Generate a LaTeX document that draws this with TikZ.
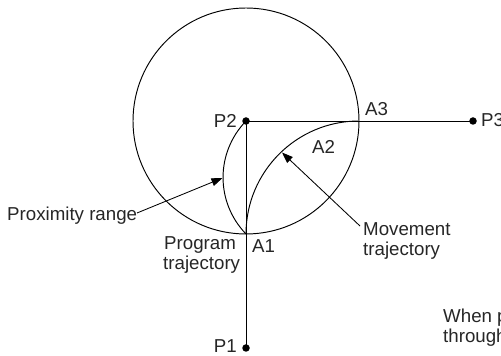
\documentclass[tikz,border=0pt]{standalone}
\usepackage{fontspec}
\setmainfont{Liberation Sans}
\usetikzlibrary{arrows.meta}
\begin{document}
\begin{tikzpicture}[x=1pt,y=1pt,
  line/.style={line width=0.95pt,black},
  lead/.style={line width=0.85pt,black,-{Triangle[length=11pt,width=8pt]}},
  lbl/.style={inner sep=0pt,font=\fontsize{18.7}{21}\selectfont,text=black!85},
  dot/.style={circle,fill=black,inner sep=0pt,minimum size=7.5pt}]
\clip (0,0) rectangle (501,356);
\useasboundingbox (0,0) rectangle (501,356);
% points
\coordinate (P2) at (246,235);
\coordinate (A1) at (246,122);
\coordinate (A3) at (359,235);
\coordinate (L1) at (137,143);
\coordinate (T1) at (222.5,178);
\coordinate (L2) at (360,130);
\coordinate (T2) at (282,203.5);
\node[dot] (dP2) at (P2) {};
\node[dot] (dP3) at (473,235) {};
\node[dot] (dP1) at (246,8) {};
% lines
\draw[line] (P2) circle[radius=113];
\draw[line] (P2) -- (dP3.center);
\draw[line] (P2) -- (dP1.center);
\draw[line] (A1) arc[start angle=180,end angle=90,radius=113];
\draw[line] (P2) to[bend right=44] (A1);
% leaders
\draw[lead] (L1) -- (T1);
\draw[lead] (L2) -- (T2);
% labels
\node[lbl,anchor=base west] (prox) at (7,135) {Proximity range};
\node[lbl,anchor=base east] (lP2) at (237,228) {P2};
\node[lbl,anchor=base west] (lA3) at (365,240) {A3};
\node[lbl,anchor=base west] (lP3) at (481,229) {P3};
\node[lbl,anchor=base west] (lA2) at (312,202) {A2};
\node[lbl,anchor=base west] (lA1) at (252,103) {A1};
\node[lbl,anchor=base west] (prog1) at (164,106) {Program};
\node[lbl,anchor=base west] (prog2) at (163,86) {trajectory};
\node[lbl,anchor=base west] (mov1) at (363,120) {Movement};
\node[lbl,anchor=base west] (mov2) at (363,100) {trajectory};
\node[lbl,anchor=base east] (lP1) at (237,3) {P1};
\node[lbl,anchor=base west] (w1) at (443,33) {When p};
\node[lbl,anchor=base west] (w2) at (443,13) {through};
\end{tikzpicture}
\end{document}
